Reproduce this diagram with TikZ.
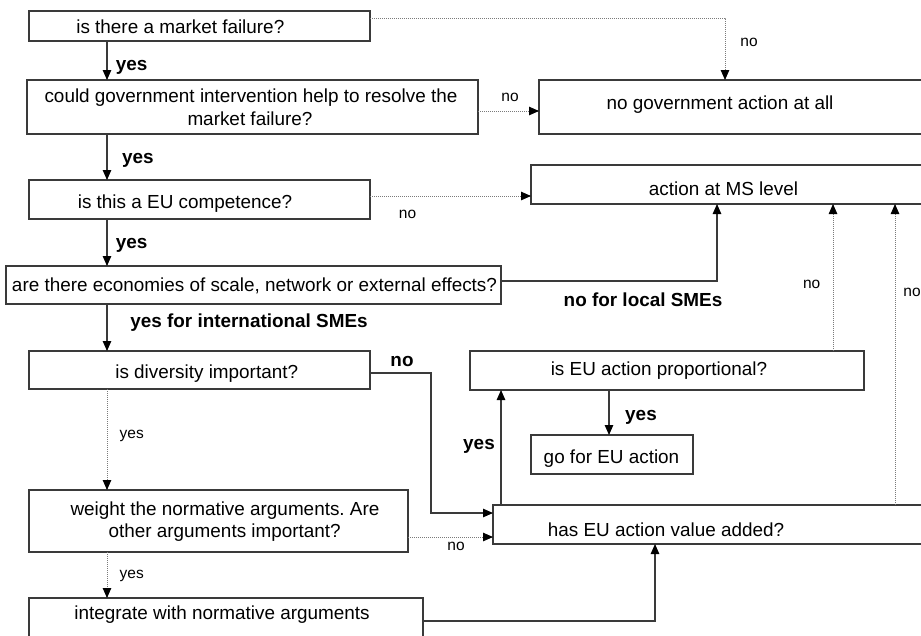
\documentclass[tikz,border=0pt]{standalone}
\usepackage{fontspec}
\setmainfont{Liberation Sans}
\usetikzlibrary{arrows.meta}
\frenchspacing

\definecolor{edge}{HTML}{3A3A3A}
\definecolor{dots}{HTML}{7A7A7A}

\tikzset{
  box/.style={draw=edge, line width=1.1pt, rectangle, inner sep=0pt, outer sep=0pt, fill=white},
  txt/.style={anchor=base, inner sep=0pt, font=\fontsize{18.9}{23}\selectfont},
  lbl/.style={anchor=base, inner sep=0pt, font=\fontsize{15.5}{18}\selectfont},
  blbl/.style={anchor=base, inner sep=0pt, font=\fontsize{18.9}{23}\selectfont\bfseries},
  arr/.style={draw=edge, line width=1.1pt, -{Triangle[length=10pt,width=8.5pt,fill=black,color=black]}},
  darr/.style={draw=dots, line width=0.9pt, dash pattern=on 1pt off 1pt,
               -{Triangle[length=10pt,width=8.5pt,fill=black,color=black]}},
}

\begin{document}
\begin{tikzpicture}[x=1pt, y=-1pt]
\useasboundingbox (0,0) rectangle (921,635);
\clip (0,0) rectangle (921,635);

% question boxes, left column
\node[box, minimum width=341pt, minimum height=30pt] (b1) at (199.5,26) {};
\node[box, minimum width=451pt, minimum height=54pt] (b2) at (252.5,107) {};
\node[box, minimum width=341pt, minimum height=39pt] (b3) at (199.5,199.5) {};
\node[box, minimum width=495pt, minimum height=38pt] (b4) at (253.5,285) {};
\node[box, minimum width=341pt, minimum height=38pt] (b5) at (199.5,370) {};
\node[box, minimum width=379pt, minimum height=62pt] (b6) at (218.5,521) {};
\node[box, minimum width=394pt, minimum height=52pt] (b7) at (226,624) {};

% outcome and check boxes, right side
\node[box, minimum width=411pt, minimum height=54pt] (nogov) at (744.5,107) {};
\node[box, minimum width=419pt, minimum height=39pt] (ms) at (740.5,184.5) {};
\node[box, minimum width=394pt, minimum height=39pt] (prop) at (667,370.5) {};
\node[box, minimum width=162pt, minimum height=39pt] (go) at (612,454.5) {};
\node[box, minimum width=457pt, minimum height=39pt] (vadd) at (721.5,524.5) {};

% box texts
\node[txt] at (180.3,33) {is there a market failure?};
\node[txt] at (251,102) {could government intervention help to resolve the};
\node[txt] at (250,125) {market failure?};
\node[txt] at (185,208.5) {is this a EU competence?};
\node[txt] at (254.5,291) {are there economies of scale, network or external effects?};
\node[txt] at (206.7,378) {is diversity important?};
\node[txt] at (225,515) {weight the normative arguments. Are};
\node[txt] at (224.7,537) {other arguments important?};
\node[txt] at (222,619) {integrate with normative arguments};
\node[txt] at (720,109) {no government action at all};
\node[txt] at (723.5,195) {action at MS level};
\node[txt] at (659,375) {is EU action proportional?};
\node[txt] at (611.5,463) {go for EU action};
\node[txt] at (666,536) {has EU action value added?};

% guide columns for the connectors
\coordinate (cA) at (107,0);
\coordinate (cNo) at (725,0);
\coordinate (cLoc) at (717,0);
\coordinate (cDiv) at (431,0);
\coordinate (cInt) at (655,0);
\coordinate (cYes) at (501,0);
\coordinate (cGo) at (609,0);
\coordinate (cPr) at (833,0);
\coordinate (cVa) at (895,0);
\coordinate (rTop) at (0,18);
\coordinate (rB2) at (0,111);
\coordinate (rB3) at (0,196);
\coordinate (rB4) at (0,281);
\coordinate (rB5) at (0,373);
\coordinate (rB6) at (0,537);
\coordinate (rB7) at (0,621);
\coordinate (rDiv) at (0,513);

% main "yes" chain
\draw[arr] (b1.south -| cA) -- (b2.north -| cA);
\draw[arr] (b2.south -| cA) -- (b3.north -| cA);
\draw[arr] (b3.south -| cA) -- (b4.north -| cA);
\draw[arr] (b4.south -| cA) -- (b5.north -| cA);
\draw[darr] (b5.south -| cA) -- (b6.north -| cA);
\draw[darr] (b6.south -| cA) -- (b7.north -| cA);

% "no" branches
\draw[darr] (b1.east |- rTop) -| (nogov.north -| cNo);
\draw[darr] (b2.east |- rB2) -- (nogov.west |- rB2);
\draw[darr] (b3.east |- rB3) -- (ms.west |- rB3);
\draw[arr] (b4.east |- rB4) -| (ms.south -| cLoc);
\draw[arr] (b5.east |- rB5) -| (cDiv |- rDiv) -- (vadd.west |- rDiv);
\draw[darr] (b6.east |- rB6) -- (vadd.west |- rB6);
\draw[arr] (b7.east |- rB7) -| (vadd.south -| cInt);

% value added and proportionality checks
\draw[arr] (vadd.north -| cYes) -- (prop.south -| cYes);
\draw[arr] (prop.south -| cGo) -- (go.north -| cGo);
\draw[darr] (prop.north -| cPr) -- (ms.south -| cPr);
\draw[darr] (vadd.north -| cVa) -- (ms.south -| cVa);

% connector labels
\node[blbl] at (131.7,70) {yes};
\node[blbl] at (137.8,163) {yes};
\node[blbl] at (131.7,248) {yes};
\node[blbl] at (249,327) {yes for international SMEs};
\node[blbl] at (643,306) {no for local SMEs};
\node[blbl] at (402,366) {no};
\node[blbl] at (641,420) {yes};
\node[blbl] at (479,449) {yes};
\node[lbl] at (749,46) {no};
\node[lbl] at (510,101) {no};
\node[lbl] at (407.5,218) {no};
\node[lbl] at (811.7,288) {no};
\node[lbl] at (912,296) {no};
\node[lbl] at (131.7,438) {yes};
\node[lbl] at (456,550) {no};
\node[lbl] at (131.7,578) {yes};
\end{tikzpicture}
\end{document}
